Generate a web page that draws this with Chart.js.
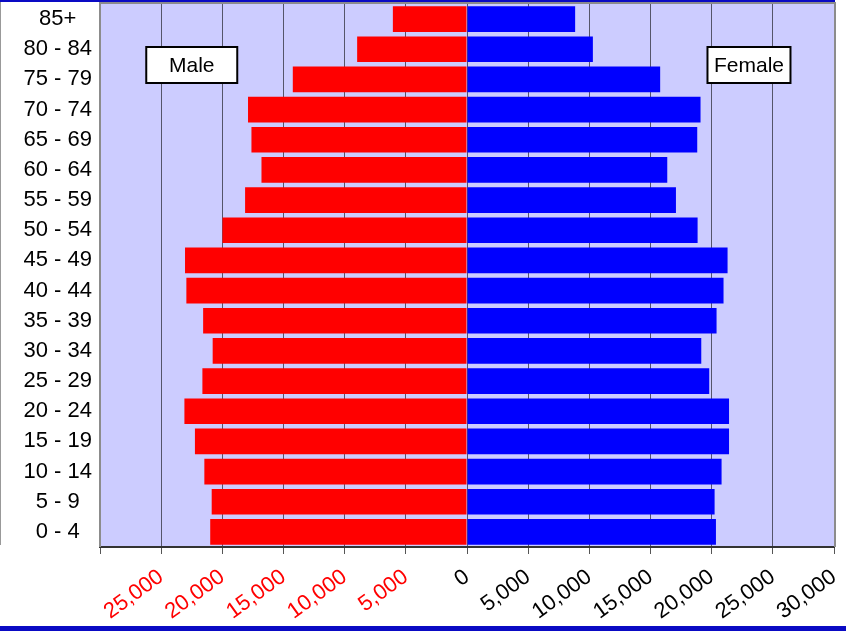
<!DOCTYPE html>
<html>
<head>
<meta charset="utf-8">
<script src="https://cdn.jsdelivr.net/npm/chart.js@4/dist/chart.umd.min.js"></script>
<style>
    html, body { margin: 0; padding: 0; background: #fff; }
    #wrap { position: relative; width: 846px; height: 631px; overflow: hidden; }
    #topBand { position: absolute; left: 0; top: 0; width: 835px; height: 2px; background: #0a0ac4; }
    #bottomBand { position: absolute; left: 0; top: 626px; width: 846px; height: 5px; background: #0a0ac4; }
    #edge { position: absolute; left: 0; top: 2px; width: 1px; height: 543px; background: #999; }
</style>
</head>
<body>
<div id="wrap">
    <canvas id="pyramid" width="846" height="631"></canvas>
    <div id="topBand"></div>
    <div id="edge"></div>
    <div id="bottomBand"></div>
</div>
<script>
// Age groups, youngest first (drawn bottom-up)
const AGE_GROUPS = ['0 - 4', '5 - 9', '10 - 14', '15 - 19', '20 - 24', '25 - 29', '30 - 34',
    '35 - 39', '40 - 44', '45 - 49', '50 - 54', '55 - 59', '60 - 64', '65 - 69', '70 - 74',
    '75 - 79', '80 - 84', '85+'];

// Population counts
const MALE = [20990, 20870, 21470, 22240, 23100, 21630, 20790, 21570, 22940, 23050,
    19990, 18140, 16800, 17620, 17900, 14240, 8980, 6060];
const FEMALE = [20350, 20240, 20810, 21420, 21420, 19800, 19150, 20400, 20970, 21300,
    18850, 17080, 16370, 18820, 19090, 15790, 10290, 8840];

// x axis range / tick step
const X_MIN = -30000;
const X_MAX = 30000;
const X_STEP = 5000;

const FONT = "'Liberation Sans', Arial, sans-serif";

// Lavender plot area + grey frame
const plotFrame = {
    id: 'plotFrame',
    beforeDraw(chart) {
        const { ctx, chartArea: a } = chart;
        ctx.save();
        ctx.fillStyle = '#ccccff';
        ctx.fillRect(a.left, a.top, a.right - a.left, a.bottom - a.top);
        ctx.restore();
    },
    afterDatasetsDraw(chart) {
        const { ctx, chartArea: a } = chart;
        ctx.save();
        ctx.strokeStyle = '#8c8c8c';
        ctx.lineWidth = 2;
        ctx.beginPath();
        ctx.moveTo(a.left, a.bottom);
        ctx.lineTo(a.left, a.top - 1);
        ctx.lineTo(a.right + 1, a.top - 1);
        ctx.lineTo(a.right + 1, a.bottom);
        ctx.stroke();
        ctx.restore();
    }
};

// "Male" / "Female" boxes
const sideNotes = {
    id: 'sideNotes',
    afterDraw(chart) {
        const { ctx, chartArea: a } = chart;
        const xs = chart.scales.x;
        const notes = [
            { text: 'Male', x: xs.getPixelForValue(-22500), w: 91 },
            { text: 'Female', x: xs.getPixelForValue(23050), w: 83 }
        ];
        const y = a.top + 61;
        ctx.save();
        ctx.font = `21px ${FONT}`;
        ctx.textAlign = 'center';
        ctx.textBaseline = 'middle';
        notes.forEach(n => {
            ctx.fillStyle = '#fff';
            ctx.fillRect(n.x - n.w / 2, y - 18, n.w, 36);
            ctx.strokeStyle = '#000';
            ctx.lineWidth = 2;
            ctx.strokeRect(n.x - n.w / 2, y - 18, n.w, 36);
            ctx.fillStyle = '#000';
            ctx.fillText(n.text, n.x, y + 1);
        });
        ctx.restore();
    }
};

new Chart(document.getElementById('pyramid'), {
    type: 'bar',
    data: {
        labels: AGE_GROUPS,
        datasets: [
            {
                label: 'Male',
                data: MALE.map(v => -v),
                backgroundColor: '#ff0000',
                borderWidth: 0
            },
            {
                label: 'Female',
                data: FEMALE,
                backgroundColor: '#0000ff',
                borderWidth: 0
            }
        ]
    },
    options: {
        indexAxis: 'y',
        responsive: false,
        animation: false,
        events: [],
        barPercentage: 0.85,
        categoryPercentage: 1.0,
        layout: { padding: { top: 4, right: 12, left: 0, bottom: 0 } },
        plugins: {
            legend: { display: false },
            tooltip: { enabled: false }
        },
        scales: {
            x: {
                stacked: true,
                min: X_MIN,
                max: X_MAX,
                grid: {
                    color: '#55556a',
                    lineWidth: 1,
                    tickLength: 7,
                    tickColor: '#555'
                },
                border: { color: '#333', width: 2 },
                ticks: {
                    stepSize: X_STEP,
                    autoSkip: false,
                    minRotation: 36,
                    maxRotation: 36,
                    padding: 10,
                    font: { family: FONT, size: 22 },
                    color: ctx => (ctx.tick && ctx.tick.value < 0 ? '#ff0000' : '#000'),
                    callback: v => (v === X_MIN ? '' : Math.abs(v).toLocaleString('en-US'))
                },
                afterFit: s => {
                    s.height = 84;
                    s.paddingLeft = 0;
                    s.paddingRight = 0;
                }
            },
            y: {
                stacked: true,
                reverse: true,
                grid: { display: false, drawTicks: false },
                border: { display: false },
                ticks: {
                    crossAlign: 'center',
                    padding: 8,
                    color: '#000',
                    font: { family: FONT, size: 22 }
                },
                afterFit: s => {
                    s.width = 100;
                    s.paddingTop = 0;
                    s.paddingBottom = 0;
                }
            }
        }
    },
    plugins: [plotFrame, sideNotes]
});
</script>
</body>
</html>
